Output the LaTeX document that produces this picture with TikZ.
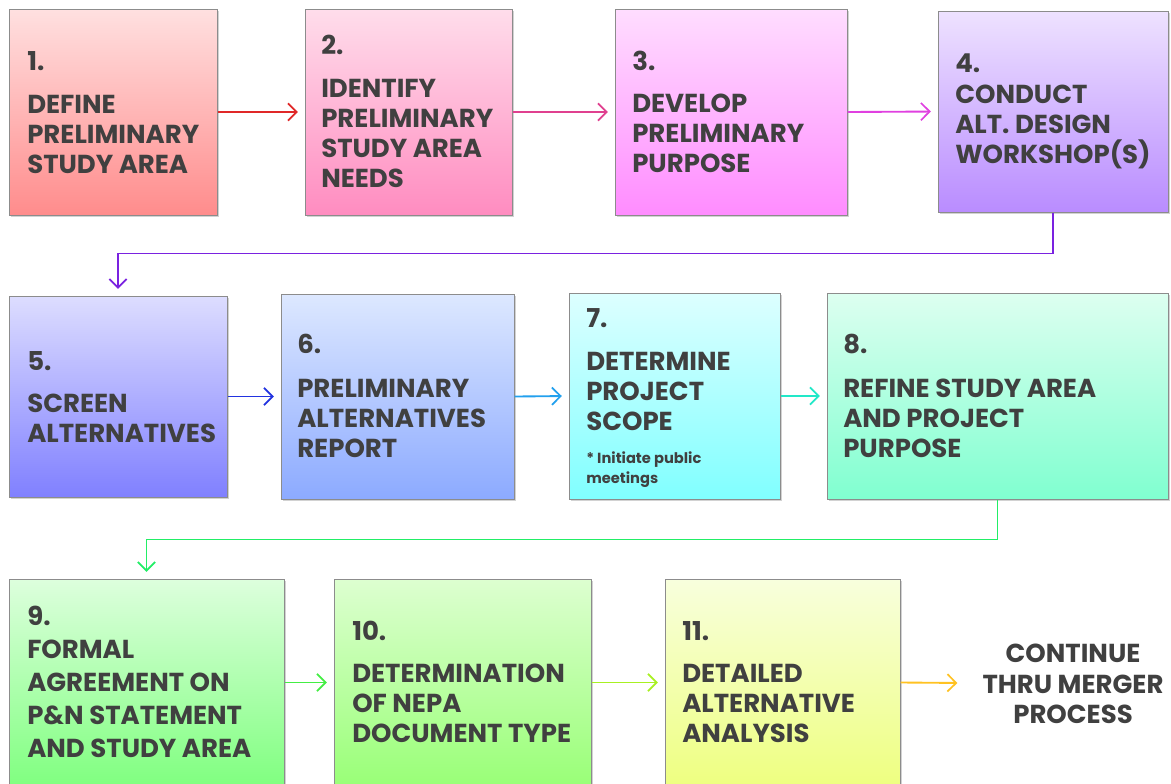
\documentclass[tikz,border=0pt]{standalone}
\usepackage{fontspec}
\setmainfont{Poppins}
\usetikzlibrary{arrows.meta,shadows,fit}
\definecolor{txtc}{HTML}{404040}
\definecolor{brd}{HTML}{8C8C8C}
\definecolor{ca1}{HTML}{FFE0E0}\definecolor{cb1}{HTML}{FF8C8C}
\definecolor{ca2}{HTML}{FFDDEB}\definecolor{cb2}{HTML}{FF8CC0}
\definecolor{ca3}{HTML}{FFDDFF}\definecolor{cb3}{HTML}{FF8CFF}
\definecolor{ca4}{HTML}{EEE2FF}\definecolor{cb4}{HTML}{B98CFF}
\definecolor{ca5}{HTML}{DDDDFF}\definecolor{cb5}{HTML}{8080FF}
\definecolor{ca6}{HTML}{DDE8FF}\definecolor{cb6}{HTML}{8CAAFF}
\definecolor{ca7}{HTML}{DDFFFF}\definecolor{cb7}{HTML}{80FFFF}
\definecolor{ca8}{HTML}{DDFFF0}\definecolor{cb8}{HTML}{80FFD0}
\definecolor{ca9}{HTML}{DDFFDD}\definecolor{cb9}{HTML}{80FF80}
\definecolor{ca10}{HTML}{DDFFD0}\definecolor{cb10}{HTML}{99FF77}
\definecolor{ca11}{HTML}{F8FFDD}\definecolor{cb11}{HTML}{EEFF80}
\definecolor{ar1}{HTML}{E02828}
\definecolor{ar2}{HTML}{E0408F}
\definecolor{ar3}{HTML}{E040E0}
\definecolor{ar4}{HTML}{7A22E0}
\definecolor{ar5}{HTML}{2233E0}
\definecolor{ar6}{HTML}{22A0EE}
\definecolor{ar7}{HTML}{22E8C8}
\definecolor{ar8}{HTML}{22EE66}
\definecolor{ar9}{HTML}{44EE44}
\definecolor{ar10}{HTML}{A8F022}
\definecolor{ar11}{HTML}{FFC222}
\tikzset{
  stepbox/.style={draw=brd, line width=0.75pt, inner sep=0pt,
    drop shadow={shadow xshift=1.8pt, shadow yshift=-1.8pt, opacity=0.35}},
  numtxt/.style={inner sep=0pt, text=txtc, font=\fontsize{19.5}{22}\selectfont\bfseries},
  bodytxt/.style={inner sep=0pt, text=txtc, font=\fontsize{19.5}{22}\selectfont\bfseries},
  smalltxt/.style={inner sep=0pt, text=txtc, font=\fontsize{11}{13}\selectfont\bfseries},
  flow/.style={line width=1.4pt, -{Straight Barb[length=6.5pt,width=13pt,line width=1.3pt]}, shorten >=5pt},
}
\newcommand\stepnum[4]{\node[numtxt, anchor=base west] (#1n) at (#2,#3) {#4};}
\newcommand\steplines[5]{\foreach \steptxt [count=\i] in {#5}
  {\node[bodytxt, anchor=base west] (#1l\i) at (#2,{#3+#4*(\i-1)}) {\steptxt};}}
\begin{document}
\begin{tikzpicture}[x=0.75pt,y=-0.75pt]
\useasboundingbox (0,0) rectangle (1171,783);
\clip (0,0) rectangle (1171,783);
\fill[white] (0,0) rectangle (1171,783);
% boxes
\node[stepbox, top color=ca1, bottom color=cb1, fit={(9,9)(217,215)}] (b1) {};
\node[stepbox, top color=ca2, bottom color=cb2, fit={(305,9)(512,215)}] (b2) {};
\node[stepbox, top color=ca3, bottom color=cb3, fit={(615,9)(847,215)}] (b3) {};
\node[stepbox, top color=ca4, bottom color=cb4, fit={(938,11)(1168,212)}] (b4) {};
\node[stepbox, top color=ca5, bottom color=cb5, fit={(9,296)(227,497)}] (b5) {};
\node[stepbox, top color=ca6, bottom color=cb6, fit={(281,294)(514,499)}] (b6) {};
\node[stepbox, top color=ca7, bottom color=cb7, fit={(569,293)(780,499)}] (b7) {};
\node[stepbox, top color=ca8, bottom color=cb8, fit={(827,293)(1168,499)}] (b8) {};
\node[stepbox, top color=ca9, bottom color=cb9, fit={(9,579)(284,786)}] (b9) {};
\node[stepbox, top color=ca10, bottom color=cb10, fit={(334,579)(591,786)}] (b10) {};
\node[stepbox, top color=ca11, bottom color=cb11, fit={(665,579)(900,786)}] (b11) {};
% texts
\stepnum{t1}{27}{70}{1.}
\steplines{t1}{27}{113}{30}{DEFINE,PRELIMINARY,STUDY AREA}
\stepnum{t2}{321}{54}{2.}
\steplines{t2}{321}{97}{30}{IDENTIFY,PRELIMINARY,STUDY AREA,NEEDS}
\stepnum{t3}{632}{70}{3.}
\steplines{t3}{632}{112}{30}{DEVELOP,PRELIMINARY,PURPOSE}
\stepnum{t4}{955}{72}{4.}
\steplines{t4}{955}{103}{30}{CONDUCT,ALT. DESIGN,WORKSHOP(S)}
\stepnum{t5}{27}{370}{5.}
\steplines{t5}{27}{412}{30}{SCREEN,ALTERNATIVES}
\stepnum{t6}{297}{353}{6.}
\steplines{t6}{297}{397}{30}{PRELIMINARY,ALTERNATIVES,REPORT}
\stepnum{t7}{586}{327}{7.}
\steplines{t7}{586}{370}{30}{DETERMINE,PROJECT,SCOPE}
\node[smalltxt, anchor=base west] (t7s1) at (586,463) {* Initiate public};
\node[smalltxt, anchor=base west] (t7s2) at (586,483) {meetings};
\stepnum{t8}{843}{353}{8.}
\steplines{t8}{843}{397}{30}{REFINE STUDY AREA,AND PROJECT,PURPOSE}
\stepnum{t9}{27}{625}{9.}
\steplines{t9}{27}{658}{33.3}{FORMAL,AGREEMENT ON,P\&N STATEMENT,AND STUDY AREA}
\stepnum{t10}{352}{640}{10.}
\steplines{t10}{352}{682}{30}{DETERMINATION,OF NEPA,DOCUMENT TYPE}
\stepnum{t11}{682}{640}{11.}
\steplines{t11}{682}{682}{30}{DETAILED,ALTERNATIVE,ANALYSIS}
\node[bodytxt, anchor=base] (c1) at (1073,662) {CONTINUE};
\node[bodytxt, anchor=base] (c2) at (1073,693) {THRU MERGER};
\node[bodytxt, anchor=base] (c3) at (1073,723) {PROCESS};
\coordinate (cin) at (964,683);
% connectors
\draw[flow, ar1] (b1.east) -- (b2.west);
\draw[flow, ar2] (b2.east) -- (b3.west);
\draw[flow, ar3] (b3.east) -- (b4.west);
\draw[flow, ar4] (b4.south) -- ++(0,41) -| (b5.north);
\draw[flow, ar5] (b5.east) -- (b6.west);
\draw[flow, ar6] (b6.east) -- (b7.west);
\draw[flow, ar7] (b7.east) -- (b8.west);
\draw[flow, ar8] (b8.south) -- ++(0,40) -| (b9.north);
\draw[flow, ar9] (b9.east) -- (b10.west);
\draw[flow, ar10] (b10.east) -- (b11.west);
\draw[flow, ar11] (b11.east) -- (cin);
\end{tikzpicture}
\end{document}
